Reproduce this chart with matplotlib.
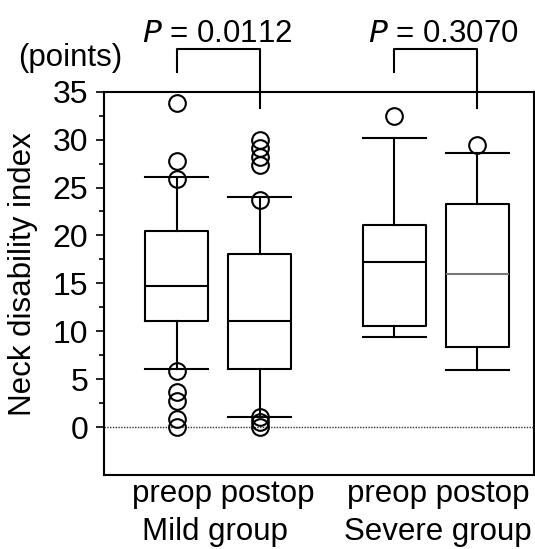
import matplotlib
matplotlib.use("Agg")
import matplotlib.pyplot as plt
import matplotlib.transforms as mtransforms
import numpy as np

plt.rcParams['font.family'] = ['Liberation Sans', 'DejaVu Sans']

# box summaries (points)
labels = ["Mild preop", "Mild postop", "Severe preop", "Severe postop"]
q1 = [11.1, 6.1, 10.6, 8.4]
med = [14.7, 11.1, 17.2, 16.0]
q3 = [20.5, 18.1, 21.1, 23.3]
whislo = [6.1, 1.0, 9.4, 6.0]
whishi = [26.1, 24.0, 30.2, 28.6]
fliers = [
    [33.8, 27.8, 25.9, 5.9, 3.7, 2.75, 0.8, 0.0],
    [30.0, 29.1, 28.2, 27.4, 23.7, 1.0, 0.5, 0.0],
    [32.5],
    [29.4],
]
p_values = ["0.0112", "0.3070"]
group_names = ["Mild group", "Severe group"]
time_names = "preop postop"

positions = [1, 2, 3.62, 4.62]

stats = []
for i in range(len(labels)):
    stats.append(dict(label=labels[i], q1=q1[i], med=med[i], q3=q3[i],
                      whislo=whislo[i], whishi=whishi[i], fliers=fliers[i]))

fig = plt.figure(figsize=(5.35, 5.49), dpi=100)
ax = fig.add_axes([0.1935, 0.1348, 0.8037, 0.6982])

lw = 1.5
ax.axhline(0, color='#333333', lw=1, ls=(0, (1, 1)), zorder=1)

bp = ax.bxp(stats, positions=positions, widths=0.76, capwidths=0.76,
            patch_artist=False,
            boxprops=dict(color='black', lw=lw),
            whiskerprops=dict(color='black', lw=lw),
            capprops=dict(color='black', lw=lw),
            medianprops=dict(color='black', lw=lw),
            flierprops=dict(marker='o', markersize=12, mfc='none',
                            mec='black', mew=1.5))
bp['medians'][3].set_color('#777777')

ax.set_xlim(0.12, 5.30)
ax.set_ylim(-5, 35)
ax.set_xticks([])
ax.set_yticks(np.arange(0, 36, 5))
ax.set_yticks(np.arange(2.5, 35, 5), minor=True)
ax.tick_params(axis='y', which='major', direction='out', length=6, width=1.2,
               labelsize=23, pad=5)
ax.tick_params(axis='y', which='minor', direction='out', length=3.5, width=1.2)
for s in ax.spines.values():
    s.set_linewidth(1.5)

# significance brackets
pairs = [(positions[0], positions[1]), (positions[2], positions[3])]
text_x = [1.49, 4.21]
for (xa, xb), p, tx in zip(pairs, p_values, text_x):
    ax.plot([xa, xa, xb, xb], [37.1, 39.45, 39.45, 33.3], color='black',
            lw=lw, clip_on=False)
    ax.text(tx, 40.15, r"$\it{P}$ = " + p, ha='center', va='baseline',
            fontsize=22.5)

fig.text(0.131, 0.8798, "(points)", ha='center', va='baseline', fontsize=22.5)
fig.text(0.043, 0.501, "Neck disability index", rotation=90, ha='center',
         va='center', fontsize=22.5)

trans = mtransforms.blended_transform_factory(ax.transData, fig.transFigure)
for xc1, xc2, g in zip([1.56, 4.15], [1.46, 4.15], group_names):
    ax.text(xc1, 0.086, time_names, transform=trans, ha='center',
            va='baseline', fontsize=22.5)
    ax.text(xc2, 0.017, g, transform=trans, ha='center', va='baseline',
            fontsize=22.5)

fig.savefig("out.png", dpi=100)
